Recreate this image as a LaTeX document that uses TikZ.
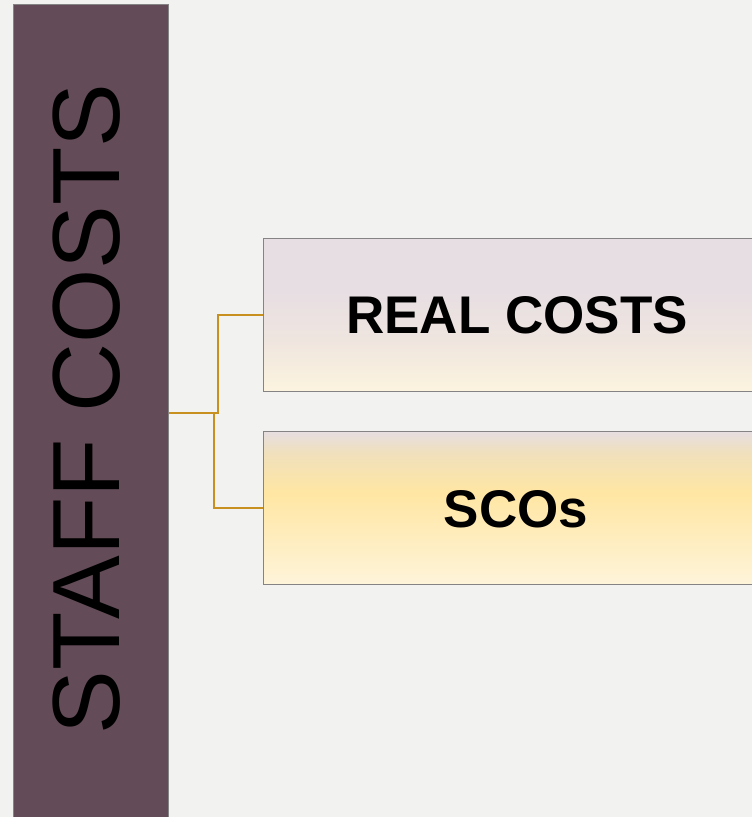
\documentclass[tikz,border=0pt]{standalone}
\usepackage{fontspec}
\setmainfont{Liberation Sans}
\usepackage{tikz}

\definecolor{pagebg}{HTML}{F2F2F0}
\definecolor{barfill}{HTML}{634B57}
\definecolor{boxline}{HTML}{858383}
\definecolor{linkcol}{HTML}{C8901F}
\definecolor{realtop}{HTML}{E7DEE3}
\definecolor{realmid}{HTML}{EFE5DF}
\definecolor{realbot}{HTML}{FCF4DF}
\definecolor{scotop}{HTML}{E6DEE0}
\definecolor{scoupper}{HTML}{F0E0BC}
\definecolor{scomid}{HTML}{FFE6A3}
\definecolor{scobot}{HTML}{FEF4DA}

\pgfdeclareverticalshading{realfade}{100bp}{color(0bp)=(realbot); color(25bp)=(realbot);
  color(42bp)=(realmid); color(58bp)=(realtop); color(75bp)=(realtop); color(100bp)=(realtop)}
\pgfdeclareverticalshading{scofade}{100bp}{color(0bp)=(scobot); color(25bp)=(scobot);
  color(55bp)=(scomid); color(68bp)=(scoupper); color(75bp)=(scotop); color(100bp)=(scotop)}

\begin{document}
\begin{tikzpicture}[x=1pt,y=-1pt,
    costbox/.style={draw=boxline, line width=1.2pt, minimum width=500pt, minimum height=153pt,
      inner sep=0pt, anchor=north west},
    costtext/.style={font=\fontsize{53}{60}\selectfont\bfseries},
    link/.style={draw=linkcol, line width=1.8pt}]
          \fill[pagebg] (0,0) rectangle (752,817);
          \useasboundingbox (0,0) rectangle (752,817);

          \node[draw=boxline, fill=barfill, line width=0.9pt, minimum width=155pt,
                minimum height=817pt, inner sep=0pt, anchor=north west] (bar) at (13,4) {};
          \node[rotate=90, font=\fontsize{95.5}{100}\selectfont] (title) at (87,409) {STAFF COSTS};

          \node[costbox, shading=realfade] (real) at (263,238) {};
          \node[costtext] (realtext) at (517,315) {REAL COSTS};

          \node[costbox, shading=scofade] (sco) at (263,431) {};
          \node[costtext] (scotext) at (516,509) {SCOs};

          \draw[link] (bar.east) -- ++(49,0) |- (real.west);
          \draw[link] (bar.east) ++(45,0) |- (sco.west);
        \end{tikzpicture}
\end{document}
